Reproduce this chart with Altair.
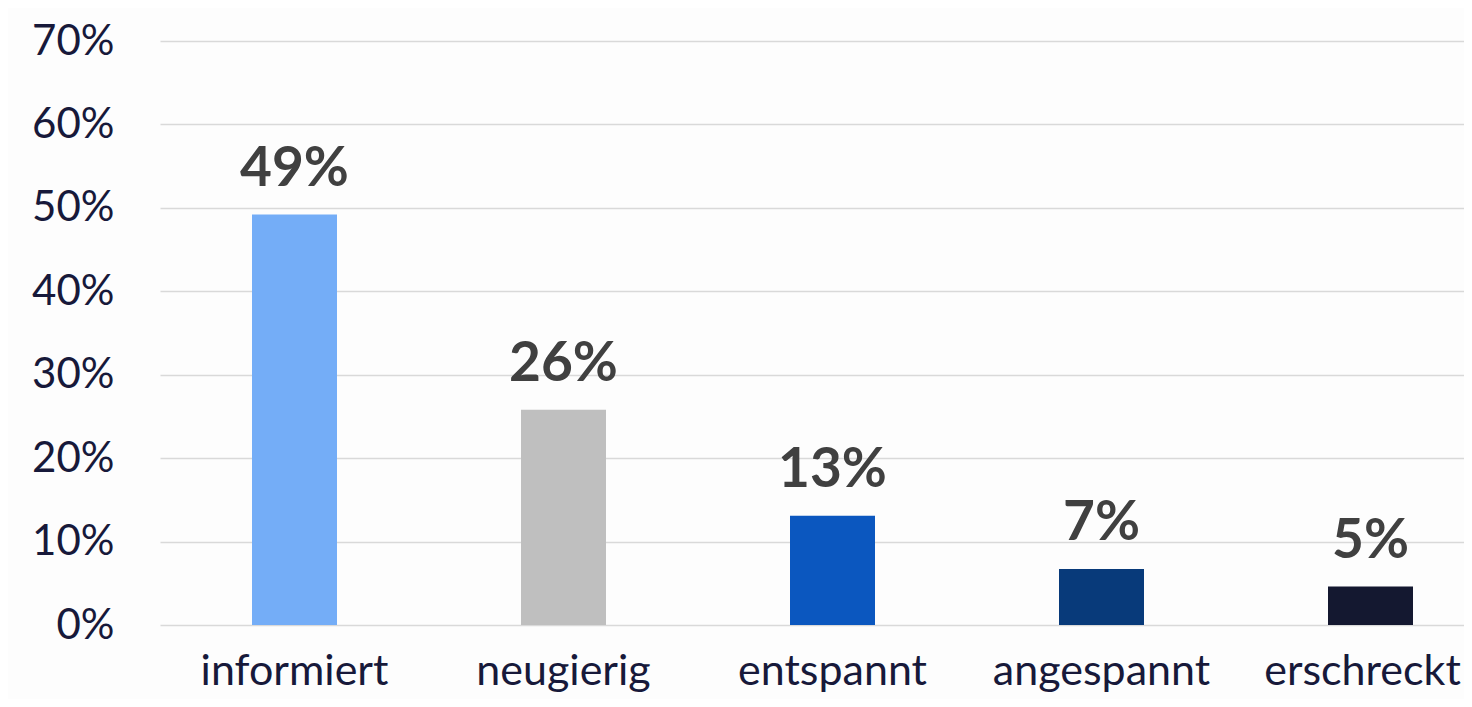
import altair as alt
import pandas as pd

categories = ["informiert", "neugierig", "entspannt", "angespannt", "erschreckt"]
values = [49.2, 25.8, 13.1, 6.7, 4.6]
labels = ["49%", "26%", "13%", "7%", "5%"]
colors = ["#74ADF7", "#BFBFBF", "#0B57BF", "#083A7A", "#141830"]
y_ticks = [0, 10, 20, 30, 40, 50, 60, 70]

df = pd.DataFrame({"cat": categories, "val": values, "lab": labels})

FONT = "Lato"

x = alt.X("cat:N", sort=categories, title=None,
          scale=alt.Scale(paddingInner=0, paddingOuter=0, range=[0, 1345]),
          axis=alt.Axis(labelFont=FONT, labelFontSize=43, labelColor="#17193A",
                        labelPadding=25, ticks=False, domain=False, labelAngle=0,
                        labelLimit=500,
                        labelOffset={"condition": {"test": "datum.value == 'erschreckt'", "value": -8},
                                     "value": 0}))
y = alt.Y("val:Q", title=None,
          scale=alt.Scale(domain=[0, 70], nice=False),
          axis=alt.Axis(values=y_ticks, labelExpr="datum.value + '%'",
                        labelFont=FONT, labelFontSize=42, labelColor="#17193A",
                        labelPadding=46, ticks=False, domain=False,
                        gridColor="#D9D9D9", gridWidth=1.6))

bars = alt.Chart(df).mark_bar(size=85).encode(
    x=x, y=y,
    color=alt.Color("cat:N", sort=categories,
                    scale=alt.Scale(domain=categories, range=colors), legend=None),
)

text = alt.Chart(df).mark_text(font=FONT, fontSize=55, fontWeight="bold",
                               color="#404040", baseline="alphabetic", dy=-29).encode(
    x=alt.X("cat:N", sort=categories),
    y=alt.Y("val:Q"),
    text="lab:N",
)

chart = (bars + text).properties(
    width=1304, height=584,
    autosize=alt.AutoSizeParams(type="none"),
    padding={"left": 152, "top": 33, "right": 0, "bottom": 74},
    background="#FDFDFD",
).configure_view(stroke=None)

chart.save("out.html", embed_options={"renderer": "svg", "actions": False})
